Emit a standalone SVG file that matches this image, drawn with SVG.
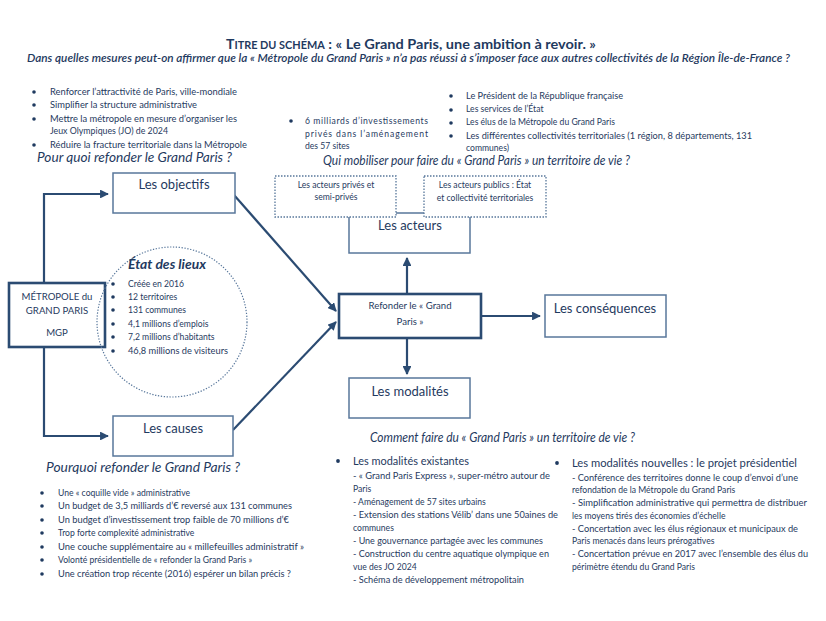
<svg xmlns="http://www.w3.org/2000/svg" width="826" height="621" viewBox="0 0 826 621">
<defs>
<marker id="ah" viewBox="0 0 10 10" refX="9" refY="5" markerWidth="4" markerHeight="4" orient="auto-start-reverse" markerUnits="strokeWidth">
<path d="M0,0 L10,5 L0,10 z" fill="#2b4b72"/>
</marker>
<style>
text{font-family:Lato,"Liberation Sans",sans-serif;fill:#1f3a60}
.s{font-size:8.6px}
.m{font-size:9.6px}
.b{font-size:13px}
.q{font-size:12.5px;font-style:italic}
.box{fill:#fff;stroke:#58779b;stroke-width:1.5}
.tbox{fill:#fff;stroke:#2b4b72;stroke-width:2.6}
.dot{fill:#fff;stroke:#58779b;stroke-width:1.3;stroke-dasharray:1.5 1.5}
.con{fill:none;stroke:#2b4b72;stroke-width:2.2}
.bul{fill:#1f3a60}
.c{text-anchor:middle}
</style>
</defs>
<rect width="826" height="621" fill="#fff"/>

<g id="title">
<text x="226" y="49" font-weight="bold" font-size="14" textLength="370" lengthAdjust="spacingAndGlyphs"><tspan font-size="13.5">T</tspan><tspan font-size="10.5">ITRE DU SCHÉMA</tspan> : « Le Grand Paris, une ambition à revoir. »</text>
<text x="27" y="62" font-size="10.5" font-style="italic" font-weight="600" textLength="763" lengthAdjust="spacingAndGlyphs">Dans quelles mesures peut-on affirmer que la « Métropole du Grand Paris » n’a pas réussi à s’imposer face aux autres collectivités de la Région Île-de-France ?</text>
</g>

<g id="objectifs-list">
<circle class="bul" cx="34" cy="92" r="1.8"/><text class="s" x="50" y="95" textLength="187" lengthAdjust="spacingAndGlyphs">Renforcer l’attractivité de Paris, ville-mondiale</text>
<circle class="bul" cx="34" cy="105" r="1.8"/><text class="s" x="50" y="108" textLength="147" lengthAdjust="spacingAndGlyphs">Simplifier la structure administrative</text>
<circle class="bul" cx="34" cy="119" r="1.8"/><text class="s" x="50" y="122" textLength="187" lengthAdjust="spacingAndGlyphs">Mettre la métropole en mesure d’organiser les</text>
<text class="s" x="50" y="134" textLength="118" lengthAdjust="spacingAndGlyphs">Jeux Olympiques (JO) de 2024</text>
<circle class="bul" cx="34" cy="145" r="1.8"/><text class="s" x="50" y="148" textLength="197" lengthAdjust="spacingAndGlyphs">Réduire la fracture territoriale dans la Métropole</text>
<text class="q" x="37" y="162" textLength="195" lengthAdjust="spacingAndGlyphs">Pour quoi refonder le Grand Paris ?</text>
</g>

<g id="investissements">
<circle class="bul" cx="291" cy="121" r="1.8"/>
<text class="s" x="305" y="124" textLength="123" lengthAdjust="spacing">6 milliards d’investissements</text>
<text class="s" x="305" y="137" textLength="123" lengthAdjust="spacing">privés dans l’aménagement</text>
<text class="s" x="305" y="149">des 57 sites</text>
</g>

<g id="acteurs-list">
<circle class="bul" cx="451" cy="96" r="1.8"/><text class="s" x="466" y="99" textLength="157" lengthAdjust="spacingAndGlyphs">Le Président de la République française</text>
<circle class="bul" cx="451" cy="110" r="1.8"/><text class="s" x="466" y="112">Les services de l’État</text>
<circle class="bul" cx="451" cy="123" r="1.8"/><text class="s" x="466" y="125">Les élus de la Métropole du Grand Paris</text>
<circle class="bul" cx="451" cy="136" r="1.8"/><text class="s" x="466" y="139" textLength="286" lengthAdjust="spacingAndGlyphs">Les différentes collectivités territoriales (1 région, 8 départements, 131</text>
<text class="s" x="466" y="151">communes)</text>
<text class="q" x="323" y="165" font-size="12" textLength="307" lengthAdjust="spacingAndGlyphs">Qui mobiliser pour faire du « Grand Paris » un territoire de vie ?</text>
</g>

<g id="connectors">
<polyline class="con" points="44,283 44,194 108,194" marker-end="url(#ah)"/>
<polyline class="con" points="44,347 44,436 108,436" marker-end="url(#ah)"/>
<line class="con" x1="234" y1="195" x2="336" y2="311" marker-end="url(#ah)"/>
<line class="con" x1="233" y1="430" x2="336" y2="322" marker-end="url(#ah)"/>
<line class="con" x1="407" y1="294" x2="407" y2="258" marker-end="url(#ah)"/>
<line class="con" x1="407" y1="338" x2="407" y2="374" marker-end="url(#ah)"/>
<line class="con" x1="481" y1="316" x2="540" y2="316" marker-end="url(#ah)"/>
</g>

<g id="objectifs">
<rect class="box" x="113" y="173" width="122" height="40"/>
<text class="b c" x="174" y="189">Les objectifs</text>
</g>

<g id="mgp">
<rect class="tbox" x="9" y="283" width="96" height="64"/>
<text class="m c" x="57" y="300" font-size="10.5">MÉTROPOLE du</text>
<text class="m c" x="57" y="314" font-size="10.5">GRAND PARIS</text>
<text class="m c" x="57" y="336" font-size="10.5">MGP</text>
</g>

<g id="etat-des-lieux">
<circle cx="172" cy="322" r="75" fill="none" stroke="#58779b" stroke-width="1.2" stroke-dasharray="1.3 1.6"/>
<text x="128" y="269" font-size="13" font-style="italic" font-weight="bold" textLength="78" lengthAdjust="spacingAndGlyphs">État des lieux</text>
<circle class="bul" cx="113" cy="284" r="1.8"/><text class="s" x="128" y="287">Créée en 2016</text>
<circle class="bul" cx="113" cy="297" r="1.8"/><text class="s" x="128" y="300">12 territoires</text>
<circle class="bul" cx="113" cy="310" r="1.8"/><text class="s" x="128" y="313">131 communes</text>
<circle class="bul" cx="113" cy="324" r="1.8"/><text class="s" x="128" y="327">4,1 millions d’emplois</text>
<circle class="bul" cx="113" cy="337" r="1.8"/><text class="s" x="128" y="340">7,2 millions d’habitants</text>
<circle class="bul" cx="113" cy="351" r="1.8"/><text class="s" x="128" y="354" textLength="100" lengthAdjust="spacingAndGlyphs">46,8 millions de visiteurs</text>
</g>

<g id="causes">
<rect class="box" x="113" y="416" width="120" height="40"/>
<text class="b c" x="173" y="433">Les causes</text>
</g>

<g id="acteurs">
<rect class="box" x="349" y="213" width="121" height="40"/>
<text class="b c" x="410" y="230">Les acteurs</text>
</g>

<g id="acteurs-prives">
<rect class="dot" x="275" y="176" width="121" height="41"/>
<text class="s c" x="336" y="188">Les acteurs privés et</text>
<text class="s c" x="336" y="200">semi-privés</text>
</g>

<g id="acteurs-publics">
<rect class="dot" x="424" y="176" width="122" height="41"/>
<text class="s c" x="485" y="188">Les acteurs publics : État</text>
<text class="s c" x="485" y="201">et collectivité territoriales</text>
</g>

<g id="refonder">
<rect class="tbox" x="339" y="294" width="142" height="44"/>
<text class="m c" x="410" y="309" font-size="10.5">Refonder le « Grand</text>
<text class="m c" x="410" y="325" font-size="10.5">Paris »</text>
</g>

<g id="consequences">
<rect class="box" x="545" y="295" width="121" height="42"/>
<text class="b c" x="605" y="313">Les conséquences</text>
</g>

<g id="modalites">
<rect class="box" x="349" y="378" width="121" height="40"/>
<text class="b c" x="410" y="396">Les modalités</text>
</g>

<g id="comment">
<text class="q" x="370" y="442" textLength="265" lengthAdjust="spacingAndGlyphs">Comment faire du « Grand Paris » un territoire de vie ?</text>
</g>

<g id="causes-list">
<text class="q" x="46" y="472" textLength="194" lengthAdjust="spacingAndGlyphs">Pourquoi refonder le Grand Paris ?</text>
<circle class="bul" cx="42" cy="493" r="1.8"/><text class="s" x="58" y="496">Une « coquille vide » administrative</text>
<circle class="bul" cx="42" cy="506" r="1.8"/><text class="s" x="58" y="509" textLength="234" lengthAdjust="spacingAndGlyphs">Un budget de 3,5 milliards d’€ reversé aux 131 communes</text>
<circle class="bul" cx="42" cy="520" r="1.8"/><text class="s" x="58" y="523" textLength="231" lengthAdjust="spacingAndGlyphs">Un budget d’investissement trop faible de 70 millions d’€</text>
<circle class="bul" cx="42" cy="533" r="1.8"/><text class="s" x="58" y="536">Trop forte complexité administrative</text>
<circle class="bul" cx="42" cy="547" r="1.8"/><text class="s" x="58" y="550" textLength="246" lengthAdjust="spacingAndGlyphs">Une couche supplémentaire au « millefeuilles administratif »</text>
<circle class="bul" cx="42" cy="560" r="1.8"/><text class="s" x="58" y="563">Volonté présidentielle de « refonder la Grand Paris »</text>
<circle class="bul" cx="42" cy="574" r="1.8"/><text class="s" x="58" y="577" textLength="233" lengthAdjust="spacingAndGlyphs">Une création trop récente (2016) espérer un bilan précis ?</text>
</g>

<g id="modalites-existantes">
<circle class="bul" cx="338" cy="461" r="1.9"/>
<text x="353" y="465" font-size="11.5" textLength="116" lengthAdjust="spacingAndGlyphs">Les modalités existantes</text>
<text class="s" x="353" y="479" textLength="197" lengthAdjust="spacingAndGlyphs">- « Grand Paris Express », super-métro autour de</text>
<text class="s" x="353" y="492">Paris</text>
<text class="s" x="353" y="505">- Aménagement de 57 sites urbains</text>
<text class="s" x="353" y="518" textLength="205" lengthAdjust="spacingAndGlyphs">- Extension des stations Vélib’ dans une 50aines de</text>
<text class="s" x="353" y="531">communes</text>
<text class="s" x="353" y="544" textLength="190" lengthAdjust="spacingAndGlyphs">- Une gouvernance partagée avec les communes</text>
<text class="s" x="353" y="557" textLength="196" lengthAdjust="spacingAndGlyphs">- Construction du centre aquatique olympique en</text>
<text class="s" x="353" y="570">vue des JO 2024</text>
<text class="s" x="353" y="583" textLength="171" lengthAdjust="spacingAndGlyphs">- Schéma de développement métropolitain</text>
</g>

<g id="modalites-nouvelles">
<circle class="bul" cx="557" cy="463" r="1.9"/>
<text x="572" y="467" font-size="11.5" textLength="225" lengthAdjust="spacingAndGlyphs">Les modalités nouvelles : le projet présidentiel</text>
<text class="s" x="572" y="481" textLength="226" lengthAdjust="spacingAndGlyphs">- Conférence des territoires donne le coup d’envoi d’une</text>
<text class="s" x="572" y="493">refondation de la Métropole du Grand Paris</text>
<text class="s" x="572" y="506" textLength="235" lengthAdjust="spacingAndGlyphs">- Simplification administrative qui permettra de distribuer</text>
<text class="s" x="572" y="519">les moyens tirés des économies d’échelle</text>
<text class="s" x="572" y="532" textLength="226" lengthAdjust="spacingAndGlyphs">- Concertation avec les élus régionaux et municipaux de</text>
<text class="s" x="572" y="544">Paris menacés dans leurs prérogatives</text>
<text class="s" x="572" y="557" textLength="236" lengthAdjust="spacingAndGlyphs">- Concertation prévue en 2017 avec l’ensemble des élus du</text>
<text class="s" x="572" y="570">périmètre étendu du Grand Paris</text>
</g>
</svg>
